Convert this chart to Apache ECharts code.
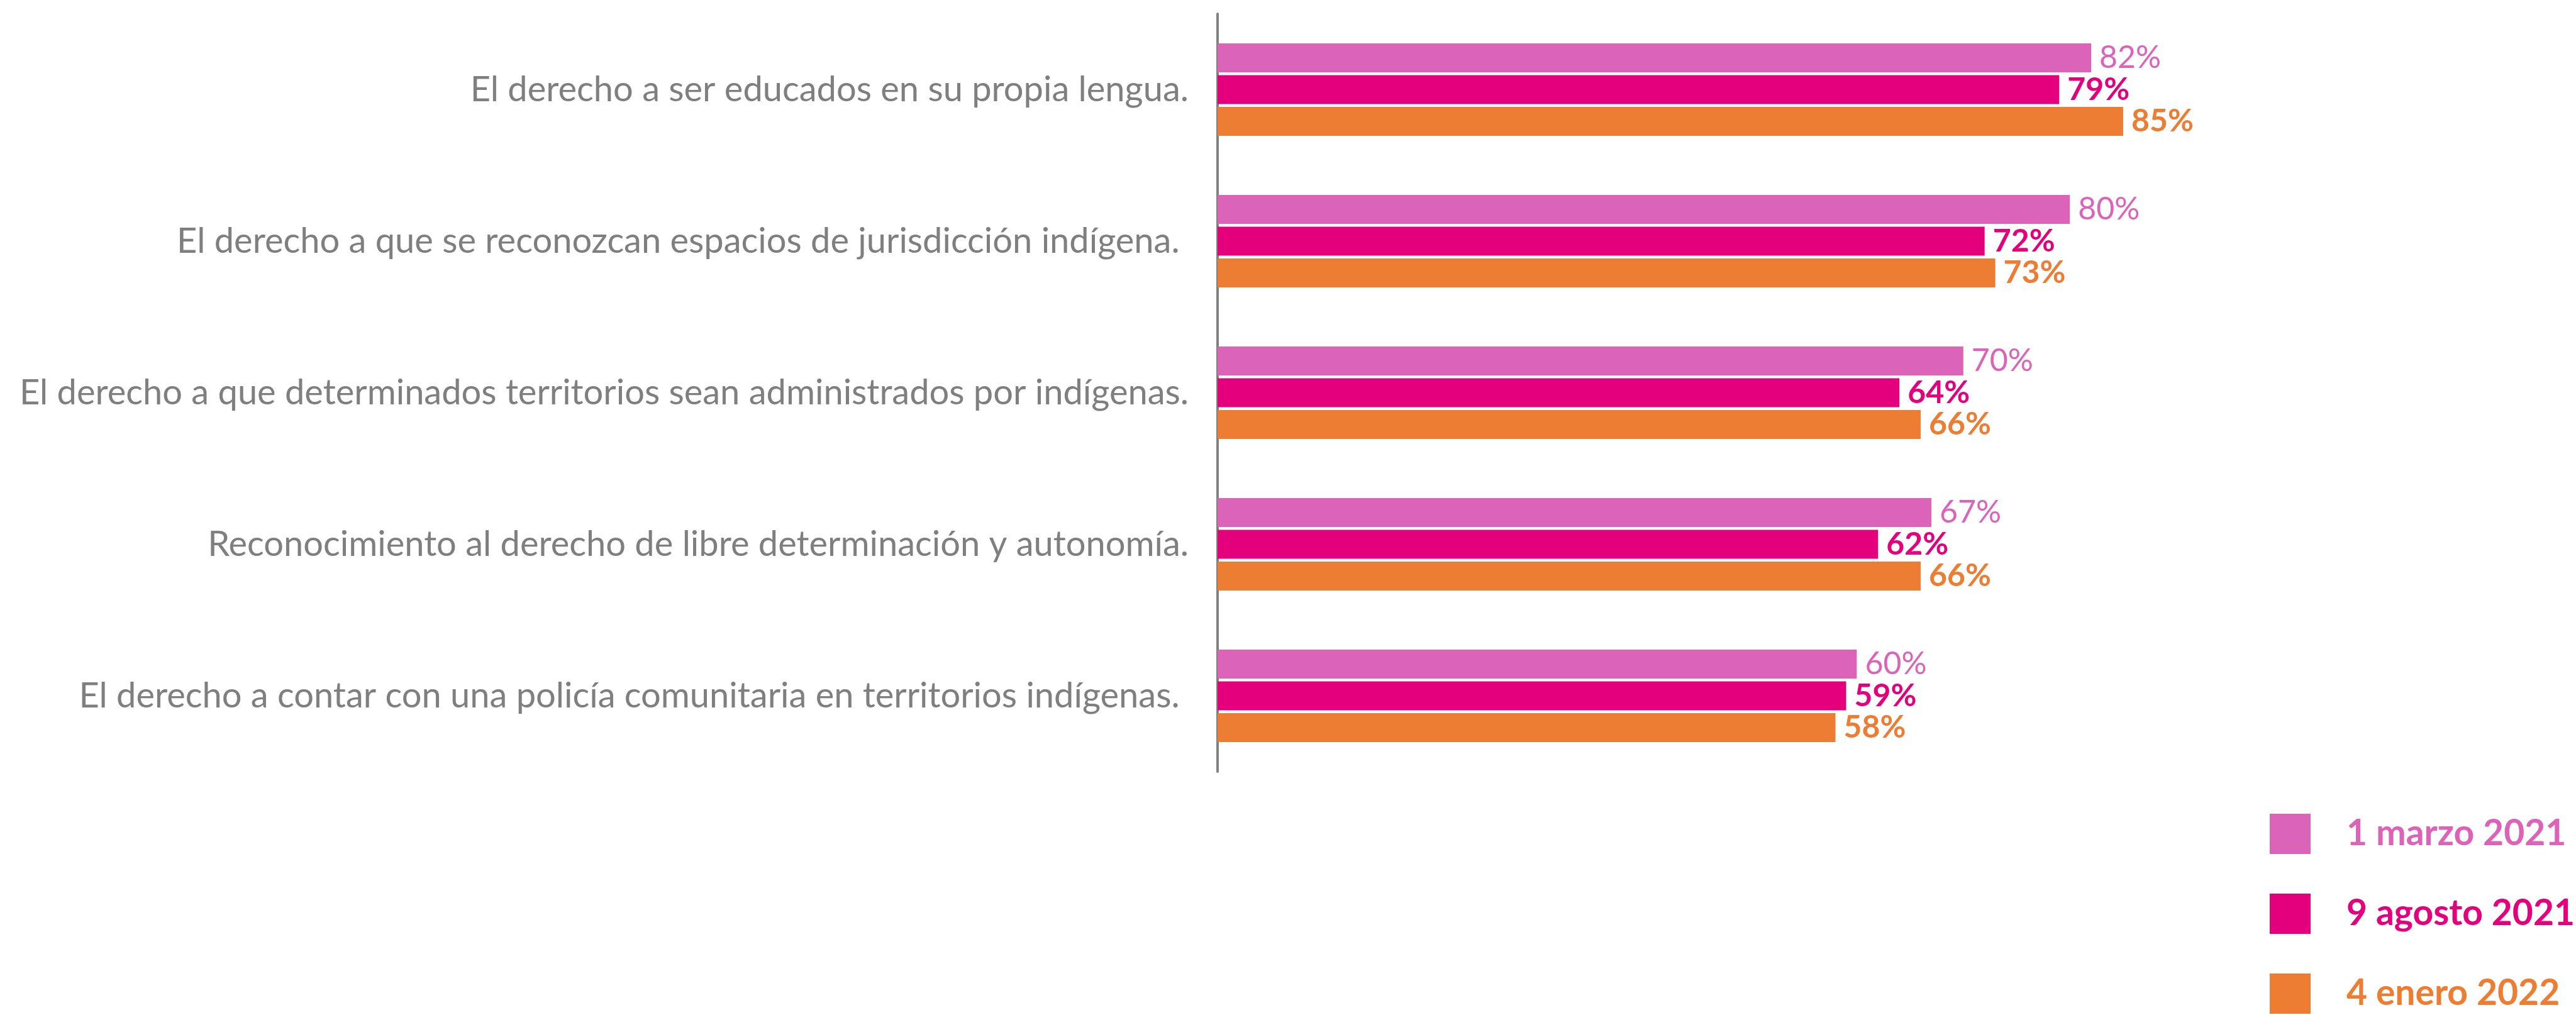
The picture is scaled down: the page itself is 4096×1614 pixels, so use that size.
<!DOCTYPE html>
<html>
<head>
<meta charset="utf-8">
<script src="https://cdn.jsdelivr.net/npm/echarts@6/dist/echarts.min.js"></script>
<style>
  html, body { margin: 0; padding: 0; background: #fff; }
  #chart { width: 4096px; height: 1614px; }
</style>
</head>
<body>
<div id="chart"></div>
<script>
// categorias (de arriba hacia abajo)
var categorias = [
  'El derecho a ser educados en su propia lengua.',
  'El derecho a que se reconozcan espacios de jurisdicción indígena. ',
  'El derecho a que determinados territorios sean administrados por indígenas.',
  'Reconocimiento al derecho de libre determinación y autonomía.',
  'El derecho a contar con una policía comunitaria en territorios indígenas. '
]
var fechas = ['1 marzo 2021', '9 agosto 2021', '4 enero 2022']
var colores = ['#DB64B8', '#E4007C', '#ED7D32']
// porcentajes por fecha
var marzo2021 = [82, 80, 70, 67, 60]
var agosto2021 = [79, 72, 64, 62, 59]
var enero2022 = [85, 73, 66, 66, 58]
var valores = [marzo2021, agosto2021, enero2022]
var pesos = ['normal', 'bold', 'bold']

var mCharts = echarts.init(document.getElementById('chart'))

var series = fechas.map(function (f, i) {
  return {
    name: f,
    type: 'bar',
    data: valores[i],
    barWidth: 46,
    barGap: '10%',
    itemStyle: { color: colores[i] },
    label: {
      show: true,
      position: 'right',
      distance: 13,
      formatter: '{c}%',
      color: colores[i],
      fontFamily: 'Lato',
      fontSize: 50,
      fontWeight: pesos[i]
    }
  }
})

var option = {
  animation: false,
  backgroundColor: '#fff',
  grid: {
    left: 1936,
    top: 22,
    width: 1694,
    height: 1205
  },
  xAxis: {
    type: 'value',
    min: 0,
    max: 100,
    show: false
  },
  yAxis: {
    type: 'category',
    inverse: true,
    data: categorias,
    axisLine: { show: true, lineStyle: { color: '#808080', width: 4 } },
    axisTick: { show: false },
    axisLabel: {
      margin: 46,
      color: '#7F7F7F',
      fontFamily: 'Lato',
      fontSize: 56,
      padding: [10, 0, 0, 0]
    }
  },
  legend: {
    orient: 'vertical',
    left: 3609,
    top: 1294,
    padding: 0,
    icon: 'rect',
    itemWidth: 65,
    itemHeight: 64,
    itemGap: 63,
    textStyle: {
      fontFamily: 'Lato',
      fontSize: 57,
      fontWeight: 'bold',
      padding: [0, 0, 0, 52]
    },
    data: fechas.map(function (f, i) {
      return { name: f, textStyle: { color: colores[i] } }
    })
  },
  series: series
}
mCharts.setOption(option)
</script>
</body>
</html>
